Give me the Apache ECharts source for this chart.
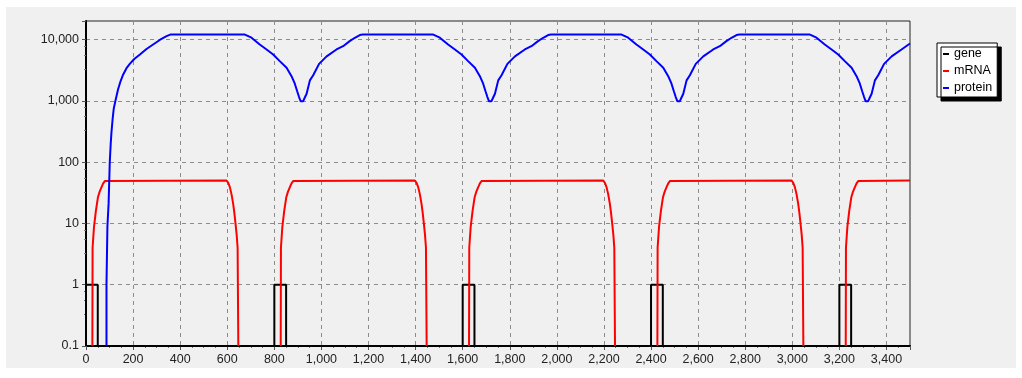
<!DOCTYPE html>
<html>
<head>
<meta charset="utf-8">
<title>gene / mRNA / protein</title>
<script src="https://cdn.jsdelivr.net/npm/echarts@6/dist/echarts.min.js"></script>
<style>
  html, body { margin: 0; padding: 0; background: #ffffff; }
  #panel { position: absolute; left: 6px; top: 7px; width: 1010px; height: 361px; background: #f0f0f0; }
  #chart { position: absolute; left: 0; top: 0; width: 1022px; height: 378px; }
</style>
</head>
<body>
<div id="panel"></div>
<div id="chart"></div>
<script>
// values (time, level); 0.1 = axis floor (zero), null = line break
const geneX = [0, 0, 50, 50, 800, 800, 850, 850, 1600, 1600, 1650, 1650, 2400, 2400, 2450, 2450, 3200, 3200, 3250, 3250, 3500]
const geneY = [0.1, 1, 1, 0.1, 0.1, 1, 1, 0.1, 0.1, 1, 1, 0.1, 0.1, 1, 1, 0.1, 0.1, 1, 1, 0.1, 0.1]

const mrnaX = [
  27, 28, 34, 42, 51, 58, 66, 73, 80, 88, 597, 604, 611, 618, 625, 630, 635, 640, 644, 647, 700,
  827, 828, 834, 842, 851, 858, 866, 873, 880, 888, 1397, 1404, 1411, 1418, 1425, 1430, 1435, 1440, 1444, 1447, 1500,
  1627, 1628, 1634, 1642, 1651, 1658, 1666, 1673, 1680, 1688, 2197, 2204, 2211, 2218, 2225, 2230, 2235, 2240, 2244, 2247, 2300,
  2427, 2428, 2434, 2442, 2451, 2458, 2466, 2473, 2480, 2488, 2997, 3004, 3011, 3018, 3025, 3030, 3035, 3040, 3044, 3047, 3100,
  3227, 3228, 3234, 3242, 3251, 3258, 3266, 3273, 3280, 3288, 3500]
const mrnaY = [
  0.1, 4, 8.8, 16, 27, 33, 39, 45, 49, 50, 50, 46, 39, 30, 21, 15, 10, 6.5, 4, 0.1, null,
  0.1, 4, 8.8, 16, 27, 33, 39, 45, 49, 50, 50, 46, 39, 30, 21, 15, 10, 6.5, 4, 0.1, null,
  0.1, 4, 8.8, 16, 27, 33, 39, 45, 49, 50, 50, 46, 39, 30, 21, 15, 10, 6.5, 4, 0.1, null,
  0.1, 4, 8.8, 16, 27, 33, 39, 45, 49, 50, 50, 46, 39, 30, 21, 15, 10, 6.5, 4, 0.1, null,
  0.1, 4, 8.8, 16, 27, 33, 39, 45, 49, 50, 50]

const proteinX = [
  87, 87, 91, 96, 101, 105, 108, 113, 118, 125, 136, 147, 158, 172, 186, 205, 229, 257, 285, 315, 342, 358,
  675, 703, 738, 767, 795, 823, 852, 873, 887, 897, 905, 912, 917, 922, 929, 937, 951, 965, 990, 1022, 1064, 1092, 1120, 1142, 1163, 1175,
  1475, 1503, 1538, 1567, 1595, 1623, 1652, 1673, 1687, 1697, 1705, 1712, 1717, 1722, 1729, 1737, 1751, 1765, 1790, 1822, 1864, 1892, 1920, 1942, 1963, 1975,
  2275, 2303, 2338, 2367, 2395, 2423, 2452, 2473, 2487, 2497, 2505, 2512, 2517, 2522, 2529, 2537, 2551, 2565, 2590, 2622, 2664, 2692, 2720, 2742, 2763, 2775,
  3075, 3103, 3138, 3167, 3195, 3223, 3252, 3273, 3287, 3297, 3305, 3312, 3317, 3322, 3329, 3337, 3351, 3365, 3390, 3422, 3464, 3500]
const proteinY = [
  0.1, 1, 9, 21, 100, 200, 300, 500, 750, 1000, 1525, 2100, 2690, 3400, 4000, 4800, 5690, 7000, 8280, 9900, 11300, 12000,
  12000, 10700, 8280, 6870, 5690, 4430, 3450, 2520, 1900, 1430, 1150, 980, 930, 980, 1120, 1300, 2150, 2600, 4000, 5300, 6870, 7770, 9380, 10660, 11800, 12000,
  12000, 10700, 8280, 6870, 5690, 4430, 3450, 2520, 1900, 1430, 1150, 980, 930, 980, 1120, 1300, 2150, 2600, 4000, 5300, 6870, 7770, 9380, 10660, 11800, 12000,
  12000, 10700, 8280, 6870, 5690, 4430, 3450, 2520, 1900, 1430, 1150, 980, 930, 980, 1120, 1300, 2150, 2600, 4000, 5300, 6870, 7770, 9380, 10660, 11800, 12000,
  12000, 10700, 8280, 6870, 5690, 4430, 3450, 2520, 1900, 1430, 1150, 980, 930, 980, 1120, 1300, 2150, 2600, 4000, 5300, 6870, 8600]

const seriesNames = ['gene', 'mRNA', 'protein']
const seriesColors = ['#000000', '#ff0000', '#0000ff']

function pairs(xs, ys) {
  return xs.map((x, i) => [x, ys[i] === null ? '-' : ys[i]])
}

function commas(v) {
  if (v < 1) return String(+v.toPrecision(2))
  return String(Math.round(v)).replace(/\B(?=(\d{3})+(?!\d))/g, ',')
}

const font = 'Liberation Sans, Arial, sans-serif'
const gridLine = { show: true, lineStyle: { color: '#8c8c8c', type: [4, 4], width: 1 } }

const myChart = echarts.init(document.getElementById('chart'), null, { renderer: 'canvas' })
const options = {
  animation: false,
  backgroundColor: 'transparent',
  grid: {
    left: 86,
    right: 112,
    top: 21,
    bottom: 32,
    show: true,
    borderColor: '#222',
    borderWidth: 1
  },
  legend: {
    orient: 'vertical',
    left: 937,
    top: 43,
    padding: [4, 5, 2, 6],
    itemGap: 3,
    itemWidth: 6,
    itemHeight: 2,
    icon: 'rect',
    backgroundColor: '#ffffff',
    borderColor: '#000000',
    borderWidth: 1,
    shadowColor: '#000000',
    shadowBlur: 0,
    shadowOffsetX: 4,
    shadowOffsetY: 4,
    textStyle: { color: '#000', fontFamily: font, fontSize: 12.5, lineHeight: 14 },
    data: seriesNames
  },
  xAxis: {
    type: 'value',
    min: 0,
    max: 3500,
    interval: 200,
    axisLine: { lineStyle: { color: '#000', width: 2 } },
    axisTick: { length: 4, lineStyle: { color: '#555' } },
    minorTick: { show: true, splitNumber: 4, length: 2, lineStyle: { color: '#777' } },
    splitLine: gridLine,
    axisLabel: {
      color: '#222',
      fontFamily: font,
      fontSize: 12.5,
      margin: 7,
      showMaxLabel: false,
      formatter: commas
    }
  },
  yAxis: {
    type: 'log',
    logBase: 10,
    min: 0.1,
    max: 20000,
    axisLine: { show: true, lineStyle: { color: '#000', width: 2 } },
    axisTick: { show: true, length: 4, lineStyle: { color: '#555' } },
    minorTick: { show: true, splitNumber: 4, length: 2, lineStyle: { color: '#777' } },
    splitLine: gridLine,
    axisLabel: {
      color: '#222',
      fontFamily: font,
      fontSize: 12.5,
      margin: 7,
      showMaxLabel: false,
      formatter: commas
    }
  },
  series: [
    { name: 'gene', data: pairs(geneX, geneY) },
    { name: 'mRNA', data: pairs(mrnaX, mrnaY) },
    { name: 'protein', data: pairs(proteinX, proteinY) }
  ].map((s, i) => ({
    name: s.name,
    type: 'line',
    data: s.data,
    showSymbol: false,
    symbol: 'none',
    clip: true,
    connectNulls: false,
    color: seriesColors[i],
    lineStyle: { color: seriesColors[i], width: 2 }
  }))
}
myChart.setOption(options)
</script>
</body>
</html>
